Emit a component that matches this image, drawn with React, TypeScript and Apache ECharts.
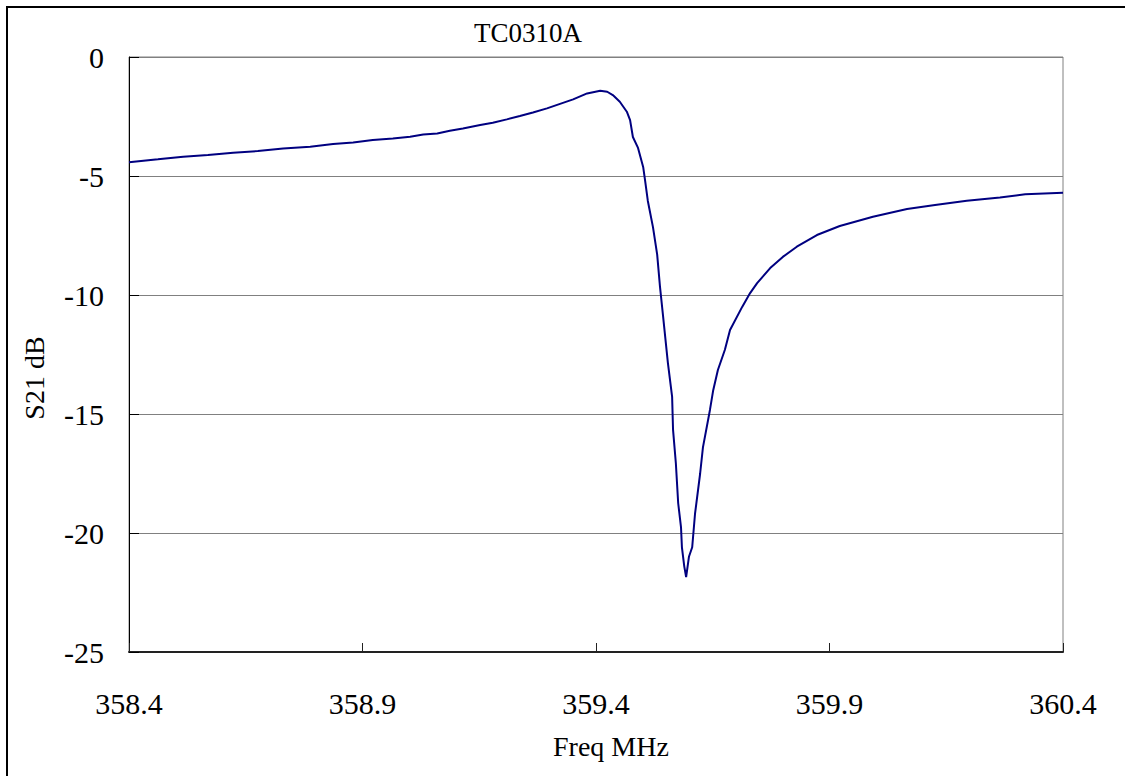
import React, { useEffect, useRef } from "react";
import * as echarts from "echarts";

const freqMHz = [
  358.4, 358.462, 358.516, 358.569, 358.623, 358.676, 358.73, 358.788, 358.837, 358.88,
  358.922, 358.965, 359.002, 359.03, 359.06, 359.087, 359.115, 359.152, 359.179, 359.209,
  359.237, 359.265, 359.295, 359.323, 359.351, 359.381, 359.409, 359.424, 359.436, 359.451,
  359.466, 359.473, 359.479, 359.49, 359.501, 359.505, 359.511, 359.522, 359.531, 359.537,
  359.543, 359.554, 359.563, 359.565, 359.571, 359.576, 359.582, 359.584, 359.589, 359.593,
  359.599, 359.606, 359.612, 359.623, 359.629, 359.644, 359.651, 359.661, 359.676, 359.687,
  359.713, 359.73, 359.745, 359.773, 359.8, 359.83, 359.873, 359.922, 359.993, 360.066,
  360.126, 360.194, 360.265, 360.319, 360.4,
];
const s21dB = [
  -4.42, -4.3, -4.19, -4.12, -4.02, -3.95, -3.84, -3.77, -3.66, -3.59,
  -3.49, -3.42, -3.35, -3.26, -3.21, -3.1, -3.0, -2.86, -2.76, -2.62,
  -2.48, -2.33, -2.16, -1.97, -1.78, -1.53, -1.42, -1.46, -1.6, -1.88,
  -2.3, -2.65, -3.36, -3.82, -4.62, -5.17, -6.05, -7.15, -8.3, -9.65,
  -10.77, -12.86, -14.28, -15.67, -17.07, -18.75, -19.75, -20.6, -21.4, -21.85,
  -21.0, -20.6, -19.2, -17.5, -16.4, -14.83, -14.0, -13.15, -12.3, -11.47,
  -10.5, -9.92, -9.5, -8.87, -8.4, -7.97, -7.48, -7.1, -6.71, -6.39,
  -6.22, -6.04, -5.9, -5.77, -5.7,
];
const xTickValues = [358.4, 358.9, 359.4, 359.9, 360.4];
const yMin = -25;
const yMax = 0;
const yStep = 5;

const titleText = "TC0310A";
const xName = "Freq MHz";
const yName = "S21 dB";

const FONT = "'Liberation Serif', 'Times New Roman', serif";

export default function App() {
  const ref = useRef<HTMLDivElement>(null);
  useEffect(() => {
    if (!ref.current) return;
    const chart = echarts.init(ref.current, undefined, { renderer: "svg" });
    const data = freqMHz.map((f, i) => [f, s21dB[i]]);
    chart.setOption({
      animation: false,
      backgroundColor: "transparent",
      title: {
        text: titleText,
        left: 474,
        top: 19,
        padding: 0,
        textStyle: { fontFamily: FONT, fontSize: 27, fontWeight: "normal", color: "#000" },
      },
      grid: {
        left: 129,
        top: 57,
        width: 934,
        height: 595,
        show: true,
        borderColor: "#808080",
        borderWidth: 1,
        backgroundColor: "transparent",
      },
      xAxis: {
        type: "value",
        min: 358.4,
        max: 360.4,
        axisLine: { show: true, onZero: false, lineStyle: { color: "#222", width: 2 } },
        axisTick: {
          show: true,
          inside: true,
          length: 9,
          customValues: xTickValues,
          lineStyle: { color: "#222", width: 1 },
        },
        axisLabel: {
          customValues: xTickValues,
          formatter: (v: number) => v.toFixed(1),
          margin: 36,
          fontFamily: FONT,
          fontSize: 30,
          color: "#000",
        },
        splitLine: { show: false },
      },
      yAxis: {
        type: "value",
        min: yMin,
        max: yMax,
        interval: yStep,
        axisLine: { show: true, onZero: false, lineStyle: { color: "#000", width: 1 } },
        axisTick: { show: true, inside: true, length: 10, lineStyle: { color: "#000", width: 1 } },
        axisLabel: {
          margin: 25,
          fontFamily: FONT,
          fontSize: 30,
          color: "#000",
        },
        splitLine: { show: true, lineStyle: { color: "#808080", width: 1 } },
      },
      graphic: [
        {
          type: "text",
          left: 553,
          top: 732,
          style: { text: xName, font: `28px ${FONT}`, fill: "#000" },
        },
        {
          type: "text",
          x: 34,
          y: 378,
          rotation: Math.PI / 2,
          style: {
            text: yName,
            font: `28px ${FONT}`,
            fill: "#000",
            textAlign: "center",
            textVerticalAlign: "middle",
          },
        },
      ],
      series: [
        {
          type: "line",
          data,
          showSymbol: false,
          symbol: "none",
          lineStyle: { color: "#000080", width: 2 },
          itemStyle: { color: "#000080" },
        },
      ],
    });
    return () => chart.dispose();
  }, []);

  return (
    <div
      style={{
        position: "fixed",
        left: 0,
        top: 0,
        width: 1125,
        height: 776,
        overflow: "hidden",
        background: "#fff",
      }}
    >
      <div
        style={{ position: "absolute", left: 6, top: 6, width: 1119, height: 2, background: "#000" }}
      />
      <div
        style={{ position: "absolute", left: 6, top: 6, width: 2, height: 770, background: "#000" }}
      />
      <div ref={ref} style={{ position: "absolute", left: 0, top: 0, width: 1125, height: 776 }} />
    </div>
  );
}
